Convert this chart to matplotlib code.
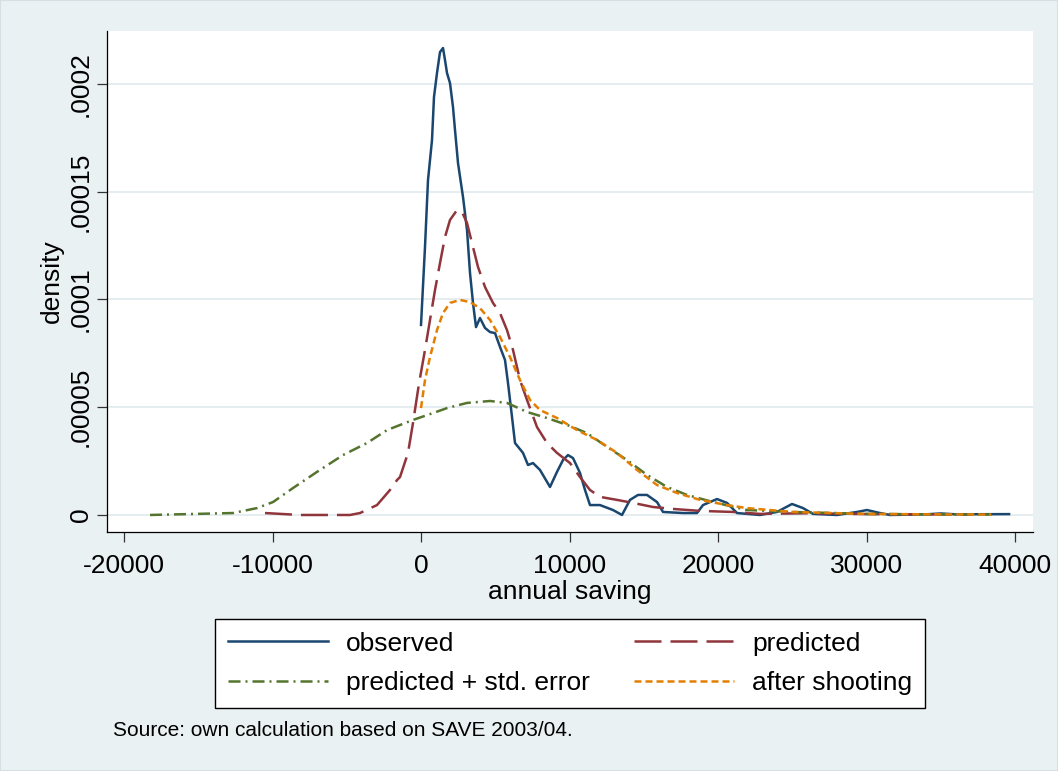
import matplotlib
matplotlib.use("Agg")
import matplotlib.pyplot as plt
from matplotlib.patches import Rectangle

# ---------------- data ----------------
obs_x = [0, 269, 471, 741, 875, 1077, 1279, 1481, 1616, 1751, 1953, 2155, 2290, 2492,
         2828, 3098, 3300, 3502, 3704, 3973, 4310, 4646, 4983, 5320, 5657, 5859, 6128,
         6330, 6869, 7205, 7542, 8013, 8687, 9158, 9562, 9899, 10236, 10707, 11044,
         11380, 12054, 12929, 13535, 14074, 14613, 15219, 15893, 16296, 17643, 18586,
         18990, 19933, 20606, 21280, 22829, 23973, 24983, 25724, 26397, 28013, 29360,
         30033, 30909, 31582, 34000, 35000, 36000, 39600]
obs_y = [8.82e-5, 1.244e-4, 1.554e-4, 1.740e-4, 1.940e-4, 2.051e-4, 2.148e-4, 2.167e-4,
         2.111e-4, 2.051e-4, 2.004e-4, 1.893e-4, 1.786e-4, 1.633e-4, 1.476e-4, 1.323e-4,
         1.123e-4, 9.84e-5, 8.72e-5, 9.14e-5, 8.68e-5, 8.49e-5, 8.44e-5, 7.80e-5, 7.19e-5,
         6.12e-5, 4.55e-5, 3.34e-5, 2.88e-5, 2.32e-5, 2.41e-5, 2.09e-5, 1.30e-5, 2.00e-5,
         2.55e-5, 2.78e-5, 2.64e-5, 1.95e-5, 1.16e-5, 4.6e-6, 4.6e-6, 2.3e-6, 0.0, 7.0e-6,
         9.3e-6, 9.3e-6, 6.0e-6, 1.4e-6, 0.9e-6, 0.9e-6, 4.6e-6, 7.4e-6, 5.6e-6, 0.9e-6,
         0.0, 1.4e-6, 5.1e-6, 3.2e-6, 0.5e-6, 0.0, 1.4e-6, 2.3e-6, 0.9e-6, 0.0, 0.3e-6,
         0.7e-6, 0.3e-6, 0.4e-6]

pred_x = [-10505, -8148, -4781, -4108, -2963, -2088, -1616, -1414, -875, -539, -202, -67,
          269, 606, 943, 1279, 1616, 1953, 2424, 2761, 3098, 3434, 3838, 4310, 4848, 5320,
          5791, 6195, 6667, 7138, 7811, 8485, 9158, 10034, 10707, 11380, 12054, 13199,
          14276, 15623, 16970, 18788, 21010, 22829, 26000, 30000, 34000, 37000]
pred_y = [0.9e-6, 0.0, 0.0, 0.9e-6, 4.6e-6, 1.16e-5, 1.62e-5, 1.76e-5, 2.88e-5, 4.27e-5,
          5.80e-5, 6.36e-5, 7.66e-5, 9.05e-5, 1.044e-4, 1.169e-4, 1.290e-4, 1.369e-4,
          1.415e-4, 1.406e-4, 1.355e-4, 1.262e-4, 1.151e-4, 1.058e-4, 9.84e-5, 9.37e-5,
          8.58e-5, 7.66e-5, 6.26e-5, 5.34e-5, 4.08e-5, 3.34e-5, 2.88e-5, 2.41e-5, 1.76e-5,
          1.16e-5, 8.4e-6, 7.0e-6, 5.6e-6, 3.7e-6, 2.8e-6, 1.9e-6, 1.4e-6, 0.5e-6, 0.8e-6,
          0.4e-6, 0.3e-6, 0.2e-6]

se_x = [-18249, -12660, -11044, -9966, -8619, -7003, -5253, -3636, -2290, -539, 808, 1751,
        3098, 4646, 5791, 7138, 8485, 9832, 11178, 12525, 13872, 15219, 16566, 17913,
        19664, 21953, 25000, 30000, 34000, 38400]
se_y = [0.0, 0.9e-6, 3.2e-6, 6.0e-6, 1.25e-5, 2.0e-5, 2.78e-5, 3.34e-5, 3.94e-5, 4.41e-5,
        4.73e-5, 4.96e-5, 5.20e-5, 5.29e-5, 5.20e-5, 4.78e-5, 4.50e-5, 4.18e-5, 3.80e-5,
        3.16e-5, 2.55e-5, 1.86e-5, 1.30e-5, 9.3e-6, 6.0e-6, 2.3e-6, 1.4e-6, 0.5e-6,
        0.3e-6, 0.2e-6]

shoot_x = [0, 269, 606, 1077, 1481, 1953, 2626, 3300, 3973, 4646, 5320, 5993, 6667, 7340,
           8013, 9158, 10505, 11852, 13199, 14545, 15893, 17239, 18788, 20606, 21953,
           25000, 30000, 34000, 38400]
shoot_y = [4.96e-5, 6.26e-5, 7.33e-5, 8.58e-5, 9.37e-5, 9.84e-5, 9.98e-5, 9.88e-5, 9.60e-5,
           9.05e-5, 8.26e-5, 7.33e-5, 6.26e-5, 5.34e-5, 4.87e-5, 4.50e-5, 3.94e-5, 3.48e-5,
           2.88e-5, 2.09e-5, 1.39e-5, 1.02e-5, 7.0e-6, 4.6e-6, 3.2e-6, 1.4e-6, 0.5e-6,
           0.3e-6, 0.2e-6]

x_ticks = [-20000, -10000, 0, 10000, 20000, 30000, 40000]
x_ticklabels = ["-20000", "-10000", "0", "10000", "20000", "30000", "40000"]
y_ticks = [0, 0.00005, 0.0001, 0.00015, 0.0002]
y_ticklabels = ["0", ".00005", ".0001", ".00015", ".0002"]
labels = ["observed", "predicted", "predicted + std. error", "after shooting"]

# ---------------- style ----------------
plt.rcParams['font.family'] = ['Liberation Sans', 'DejaVu Sans']
BG = '#EAF1F3'
GRID = '#E3ECEF'
C_OBS = '#1A476F'
C_PRED = '#90353B'
C_SE = '#55752F'
C_SHOOT = '#E37E00'
LW = 1.8

W, H = 1058, 771
fig = plt.figure(figsize=(W / 100, H / 100), dpi=100, facecolor=BG)
L, R, T, B = 107, 1033, 31, 532
ax = fig.add_axes([L / W, 1 - B / H, (R - L) / W, (B - T) / H])
ax.set_facecolor('white')

ax.set_xlim(-21145, 41212)
ax.set_ylim(-7.9e-6, 2.246e-4)

for yv in y_ticks:
    ax.axhline(yv, color=GRID, lw=1.3, zorder=0)

l1, = ax.plot(obs_x, obs_y, color=C_OBS, lw=LW, label=labels[0], zorder=3)
l2, = ax.plot(pred_x, pred_y, color=C_PRED, lw=LW, dashes=[10.8, 3.6], label=labels[1], zorder=3)
l3, = ax.plot(se_x, se_y, color=C_SE, lw=LW, dashes=[4.8, 2.0, 0.8, 2.0], label=labels[2], zorder=3)
l4, = ax.plot(shoot_x, shoot_y, color=C_SHOOT, lw=LW, dashes=[2.8, 1.6], label=labels[3], zorder=3)

for s in ['top', 'right']:
    ax.spines[s].set_visible(False)
for s in ['left', 'bottom']:
    ax.spines[s].set_color('black')
    ax.spines[s].set_linewidth(0.9)

ax.set_xticks(x_ticks)
ax.set_xticklabels(x_ticklabels)
ax.set_yticks(y_ticks)
ax.set_yticklabels(y_ticklabels, rotation=90, va='center')
ax.tick_params(axis='both', direction='out', length=7.5, width=0.9, color='#333333',
               labelsize=19, colors='black')
ax.tick_params(axis='x', pad=8.5)
ax.tick_params(axis='y', pad=2.5)

ax.set_xlabel("annual saving", fontsize=19, labelpad=1.5)
ax.set_ylabel("density", fontsize=19, labelpad=4)

# column-major fill: col1 = observed / predicted + std. error, col2 = predicted / after shooting
leg = fig.legend(handles=[l1, l3, l2, l4], labels=[labels[0], labels[2], labels[1], labels[3]],
                 ncol=2, loc='upper center', bbox_to_anchor=(570 / W, 1 - 619 / H),
                 fontsize=19, frameon=True, fancybox=False, framealpha=1,
                 edgecolor='black', handlelength=3.79, handletextpad=0.68,
                 columnspacing=1.67, borderpad=0.48, labelspacing=0.58,
                 borderaxespad=0)
leg.get_frame().set_linewidth(1.0)

fig.text(113 / W, 1 - 731 / H, "Source: own calculation based on SAVE 2003/04.",
         fontsize=15, ha='left', va='center')

fig.add_artist(Rectangle((0, 0), 1, 1, transform=fig.transFigure, fill=False,
                         edgecolor='#D5E0E4', lw=1.5))

fig.savefig("out.png", dpi=100, facecolor=BG)
